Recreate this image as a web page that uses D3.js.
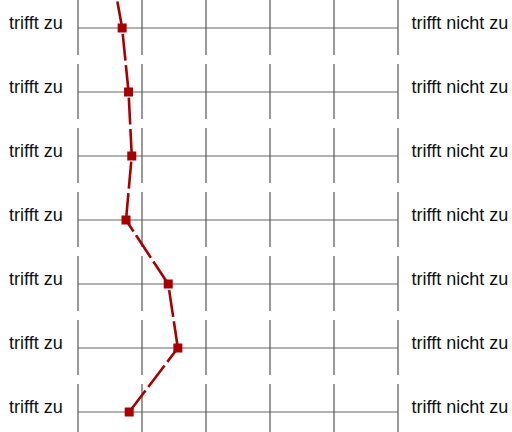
<!DOCTYPE html>
<html>
<head>
<meta charset="utf-8">
<script src="https://cdn.jsdelivr.net/npm/d3@7"></script>
<style>
  html, body { margin: 0; padding: 0; background: #fff; }
  svg { display: block; }
</style>
</head>
<body>
<div id="chart"></div>
<script>
// rows of the profile (row 0 sits just above the visible area, only its line shows)
const rowIds = [0, 1, 2, 3, 4, 5, 6, 7];
const leftPoles = [null, "trifft zu", "trifft zu", "trifft zu", "trifft zu", "trifft zu", "trifft zu", "trifft zu"];
const rightPoles = [null, "trifft nicht zu", "trifft nicht zu", "trifft nicht zu", "trifft nicht zu", "trifft nicht zu", "trifft nicht zu", "trifft nicht zu"];
// mean score per row, scale 1 (trifft zu) .. 6 (trifft nicht zu)
const values = [1.51, 1.69, 1.79, 1.84, 1.75, 2.41, 2.56, 1.80];
const scaleTicks = [1, 2, 3, 4, 5, 6];

const width = 512, height = 432;
const red = "#a80000";

const svg = d3.select("#chart").append("svg")
    .attr("width", width)
    .attr("height", height);

const x = d3.scaleLinear().domain([1, 6]).range([78, 398]);
const y = d3.scaleLinear().domain([0, 7]).range([-36, 412]);

// --- grid per row ---
const rowG = svg.append("g").selectAll("g")
    .data(rowIds)
    .join("g")
    .attr("transform", d => `translate(0,${y(d)})`);

rowG.selectAll("line.v")
    .data(scaleTicks)
    .join("line")
    .attr("class", "v")
    .attr("x1", d => x(d)).attr("x2", d => x(d))
    .attr("y1", -28).attr("y2", 27)
    .attr("stroke", "#777")
    .attr("stroke-width", 1.5);

rowG.append("line")
    .attr("x1", x(1)).attr("x2", x(6))
    .attr("y1", 0).attr("y2", 0)
    .attr("stroke", "#666")
    .attr("stroke-width", 1.2);

// pole labels, only for the rows that carry them
const labelled = rowG.filter(d => leftPoles[d] !== null);

labelled.append("text")
    .attr("x", 9)
    .attr("y", 1)
    .attr("font-family", "Liberation Sans, Arial, sans-serif")
    .attr("font-size", "18px")
    .attr("fill", "#111")
    .text(d => leftPoles[d]);

labelled.append("text")
    .attr("x", 411.5)
    .attr("y", 1)
    .attr("font-family", "Liberation Sans, Arial, sans-serif")
    .attr("font-size", "18px")
    .attr("fill", "#111")
    .text(d => rightPoles[d]);

// --- profile line: each segment drawn from lower row up to the row above ---
const segs = rowIds.slice(1).map(i => ({ from: i, to: i - 1 }));
svg.append("g").selectAll("line")
    .data(segs)
    .join("line")
    .attr("x1", d => x(values[d.from])).attr("y1", d => y(d.from))
    .attr("x2", d => x(values[d.to])).attr("y2", d => y(d.to))
    .attr("stroke", red)
    .attr("stroke-width", 2.6)
    .attr("stroke-dasharray", "27,4.5");

// markers
svg.append("g").selectAll("rect")
    .data(rowIds)
    .join("rect")
    .attr("x", d => x(values[d]) - 4.5)
    .attr("y", d => y(d) - 4.5)
    .attr("width", 9)
    .attr("height", 9)
    .attr("fill", red);
</script>
</body>
</html>
